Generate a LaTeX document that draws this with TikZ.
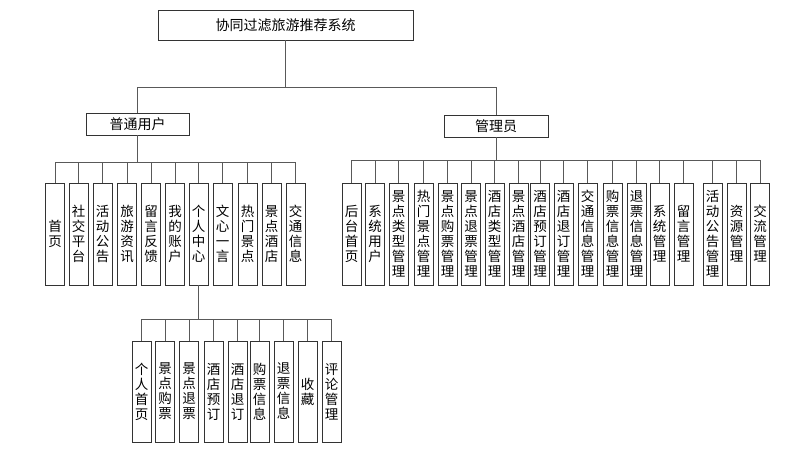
\documentclass[tikz,border=0pt]{standalone}
\usepackage{fontspec}
\newfontfamily\cjk{Noto Sans CJK SC}
\begin{document}
\begin{tikzpicture}[x=1pt,y=-1pt,
    box/.style={draw=black!80, line width=0.8pt, minimum height=22pt, inner sep=0pt, font=\cjk\fontsize{14}{16}\selectfont},
    vbox/.style={draw=black!80, line width=0.8pt, minimum width=19pt, minimum height=102pt, inner sep=0pt, align=center, font=\cjk\fontsize{13.5}{15}\selectfont},
    link/.style={draw=black!65, line width=0.8pt}]
    \useasboundingbox (0,0) rectangle (788,451);

    % 系统与两类用户
    \node[box, minimum width=255pt, minimum height=30pt] (root) at (285.5,25) {协同过滤旅游推荐系统};
    \node[box, minimum width=103pt] (user) at (137.5,124) {普通用户};
    \node[box, minimum width=104pt] (admin) at (496,126) {管理员};
    \coordinate (rbus) at (285.5,87);
    \draw[link] (root.south) -- (rbus) -| (user.north);
    \draw[link] (rbus) -| (admin.north);

    % 普通用户功能
    \foreach \x/\t [count=\i] in {55/{首\\页}, 78.5/{社\\交\\平\\台}, 102.5/{活\\动\\公\\告},
        127/{旅\\游\\资\\讯}, 151/{留\\言\\反\\馈}, 175/{我\\的\\账\\户}, 198.5/{个\\人\\中\\心},
        222.5/{文\\心\\一\\言}, 247.5/{热\\门\\景\\点}, 271.5/{景\\点\\酒\\店}, 295.5/{交\\通\\信\\息}}
        \node[vbox] (u\i) at (\x,234) {\t};
    \coordinate (ubus) at (0,162);
    \draw[link] (user.south) -- (user.south |- ubus);
    \draw[link] (u1.north |- ubus) -- (u11.north |- ubus);
    \foreach \i in {1,...,11}
        \draw[link] (u\i.north |- ubus) -- (u\i.north);

    % 管理员功能
    \foreach \x/\t [count=\i] in {351.5/{后\\台\\首\\页}, 375/{系\\统\\用\\户},
        398.5/{景\\点\\类\\型\\管\\理}, 423.5/{热\\门\\景\\点\\管\\理}, 447.5/{景\\点\\购\\票\\管\\理},
        471/{景\\点\\退\\票\\管\\理}, 494.5/{酒\\店\\类\\型\\管\\理}, 518.5/{景\\点\\酒\\店\\管\\理},
        540/{酒\\店\\预\\订\\管\\理}, 563.5/{酒\\店\\退\\订\\管\\理}, 587.5/{交\\通\\信\\息\\管\\理},
        612.5/{购\\票\\信\\息\\管\\理}, 636.5/{退\\票\\信\\息\\管\\理}, 659.5/{系\\统\\管\\理},
        683.5/{留\\言\\管\\理}, 712.5/{活\\动\\公\\告\\管\\理}, 736.5/{资\\源\\管\\理}, 760/{交\\流\\管\\理}}
        \node[vbox] (a\i) at (\x,234) {\t};
    \coordinate (abus) at (0,160);
    \draw[link] (admin.south) -- (admin.south |- abus);
    \draw[link] (a1.north |- abus) -- (a18.north |- abus);
    \foreach \i in {1,...,18}
        \draw[link] (a\i.north |- abus) -- (a\i.north);

    % 个人中心下级
    \foreach \x/\t [count=\i] in {141.5/{个\\人\\首\\页}, 165/{景\\点\\购\\票}, 189/{景\\点\\退\\票},
        213.5/{酒\\店\\预\\订}, 237.5/{酒\\店\\退\\订}, 259.5/{购\\票\\信\\息}, 283.5/{退\\票\\信\\息},
        307.5/{收\\藏}, 331.5/{评\\论\\管\\理}}
        \node[vbox, minimum height=101pt] (c\i) at (\x,391.5) {\t};
    \coordinate (cbus) at (0,319);
    \draw[link] (u7.south) -- (u7.south |- cbus);
    \draw[link] (c1.north |- cbus) -- (c9.north |- cbus);
    \foreach \i in {1,...,9}
        \draw[link] (c\i.north |- cbus) -- (c\i.north);
\end{tikzpicture}
\end{document}
